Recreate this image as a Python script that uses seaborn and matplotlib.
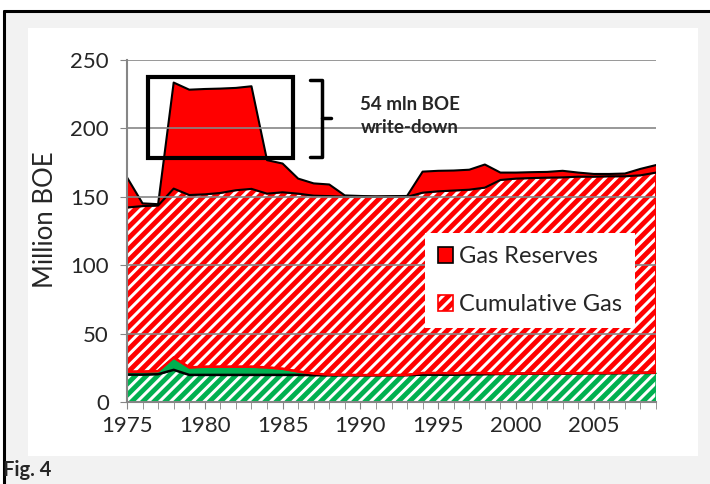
import numpy as np
import pandas as pd
import matplotlib
matplotlib.use("Agg")
import matplotlib.pyplot as plt
import seaborn as sns
from matplotlib.patches import Patch, Rectangle
from matplotlib.lines import Line2D

years = list(range(1975, 2010))

# layer thicknesses, million BOE
oil_cum = [20.0, 20.0, 20.3, 23.5, 19.8, 19.8, 19.8, 19.8, 19.8, 19.8,
           19.8, 19.8, 19.6, 19.5, 19.5, 19.5, 19.5, 19.5, 19.6, 20.0,
           20.0, 20.0, 20.2, 20.3, 20.5, 20.6, 20.7, 20.8, 20.8, 20.9,
           21.0, 21.0, 21.1, 21.2, 21.3]
oil_res = [2.2, 2.2, 2.3, 9.0, 5.5, 6.0, 6.0, 6.0, 6.0, 5.5,
           4.5, 2.5, 1.2, 0.5, 0.3, 0.2, 0.2, 0.2, 0.2, 1.2,
           1.2, 1.0, 1.0, 0.8, 0.3, 0.2, 0.2, 0.2, 0.2, 0.2,
           0.2, 0.2, 0.2, 0.2, 0.2]
gas_cum = [120, 121, 121, 123.5, 126, 126, 127, 129, 130, 127,
           129, 130, 130, 130.5, 130.2, 130.3, 130.3, 130.3, 130.2, 131.8,
           132.8, 133.6, 134, 135.6, 141.5, 142.5, 142.8, 143, 143.2, 143.6,
           143.5, 143.8, 143.7, 144.3, 146.2]
gas_res = [22, 2, 1, 77.5, 77, 77, 76.3, 74.8, 75, 24.5,
           21, 11, 9, 8.5, 1, 0.6, 0.3, 0.5, 0.6, 15.4,
           15, 14.6, 14.6, 16.9, 5.4, 4.4, 4.3, 4.2, 4.8, 3,
           2, 1.7, 2, 4.7, 5.5]

RED = "#ff0000"
GREEN = "#00b050"

df = pd.DataFrame({"year": years, "oil_cum": oil_cum, "oil_res": oil_res,
                   "gas_cum": gas_cum, "gas_res": gas_res})
df["b1"] = df["oil_cum"]
df["b2"] = df["b1"] + df["oil_res"]
df["b3"] = df["b2"] + df["gas_cum"]
df["b4"] = df["b3"] + df["gas_res"]

sns.set_style("white")
plt.rcParams["font.family"] = ["Lato", "DejaVu Sans"]
plt.rcParams["hatch.linewidth"] = 3.5

fig = plt.figure(figsize=(7.1, 4.84), dpi=100)
fig.patch.set_facecolor("white")

W, H = 710.0, 484.0
fig.add_artist(Rectangle((4 / W, 0), 1, 1 - 11 / H, transform=fig.transFigure,
                         facecolor="#f2f2f2", edgecolor="none", zorder=-10))
fig.add_artist(Rectangle((28 / W, 1 - 456 / H), 670 / W, 428 / H,
                         transform=fig.transFigure, facecolor="white",
                         edgecolor="none", zorder=-9))
fig.add_artist(Line2D([4 / W, 4 / W], [0, 1 - 11 / H], transform=fig.transFigure,
                      color="black", lw=2.2))
fig.add_artist(Line2D([4 / W, 1], [1 - 11 / H, 1 - 11 / H], transform=fig.transFigure,
                      color="black", lw=2.2))

ax = fig.add_axes([127 / W, 1 - 402 / H, 529 / W, 342 / H])
ax.set_facecolor("none")

x = df["year"]
ax.fill_between(x, 0, df["b1"], facecolor="white", edgecolor=GREEN, hatch="///", lw=1)
ax.fill_between(x, df["b1"], df["b2"], facecolor=GREEN, edgecolor=GREEN, lw=0.5)
ax.fill_between(x, df["b2"], df["b3"], facecolor="white", edgecolor=RED, hatch="///", lw=1.5)
ax.fill_between(x, df["b3"], df["b4"], facecolor=RED, edgecolor="none", lw=0)

sns.lineplot(data=df, x="year", y="b1", color="black", lw=1.8, ax=ax)
sns.lineplot(data=df, x="year", y="b2", color=RED, lw=1.8, ax=ax)
sns.lineplot(data=df, x="year", y="b3", color="black", lw=1.5, ax=ax)
sns.lineplot(data=df, x="year", y="b4", color="black", lw=1.5, ax=ax)

ax.set_xlim(1975, 2009)
ax.set_ylim(0, 250)
ax.set_yticks(range(0, 251, 50))
ax.set_xticks(range(1975, 2006, 5))
ax.set_xticks(range(1975, 2010), minor=True)
ax.yaxis.grid(True, color="#868686", lw=1.2)
ax.set_axisbelow(False)
for s in ["top", "right"]:
    ax.spines[s].set_visible(False)
for s in ["left", "bottom"]:
    ax.spines[s].set_color("#868686")
    ax.spines[s].set_linewidth(1.5)
    ax.spines[s].set_zorder(5)
ax.tick_params(axis="y", which="major", left=True, length=5, color="#868686",
               labelsize=16, pad=8)
ax.tick_params(axis="x", which="both", bottom=True, length=5, color="#868686",
               labelsize=16, pad=5)
ax.set_xlabel("")
ax.set_ylabel("Million BOE", fontsize=18.5)
ax.yaxis.set_label_coords(-0.13, 0.532)

handles = [Patch(facecolor=RED, edgecolor="black", lw=1.2, label="Gas Reserves"),
           Patch(facecolor="white", edgecolor=RED, hatch="///", lw=1.2, label="Cumulative Gas")]
leg = ax.legend(handles=handles, loc="upper left", bbox_to_anchor=(0.563, 0.494),
                borderaxespad=0, frameon=True, framealpha=1, edgecolor="white",
                fancybox=False, fontsize=17, handlelength=0.65, handleheight=0.65,
                handletextpad=0.25, labelspacing=1.15, borderpad=0.55)
leg.get_frame().set_linewidth(0)

# write-down box and brace
ax.add_patch(Rectangle((1976.35, 178.4), 9.32, 59.2, fill=False, lw=3,
                       edgecolor="black", clip_on=False, zorder=6))
ax.plot([1986.76, 1987.53, 1987.53, 1986.76], [235.4, 235.4, 179.1, 179.1],
        color="black", lw=2.5, clip_on=False, zorder=6)
ax.plot([1987.53, 1988.1], [207.6, 207.6], color="black", lw=2.5,
        clip_on=False, zorder=6)
ax.text(1993.2, 209, "54 mln BOE\nwrite-down", ha="center", va="center",
        fontsize=13.5, fontweight="bold", linespacing=1.45)

fig.text(3 / W, 1 - 470 / H, "Fig. 4", fontsize=14.5, fontweight="bold",
         ha="left", va="center")

fig.savefig("out.png", dpi=100)
